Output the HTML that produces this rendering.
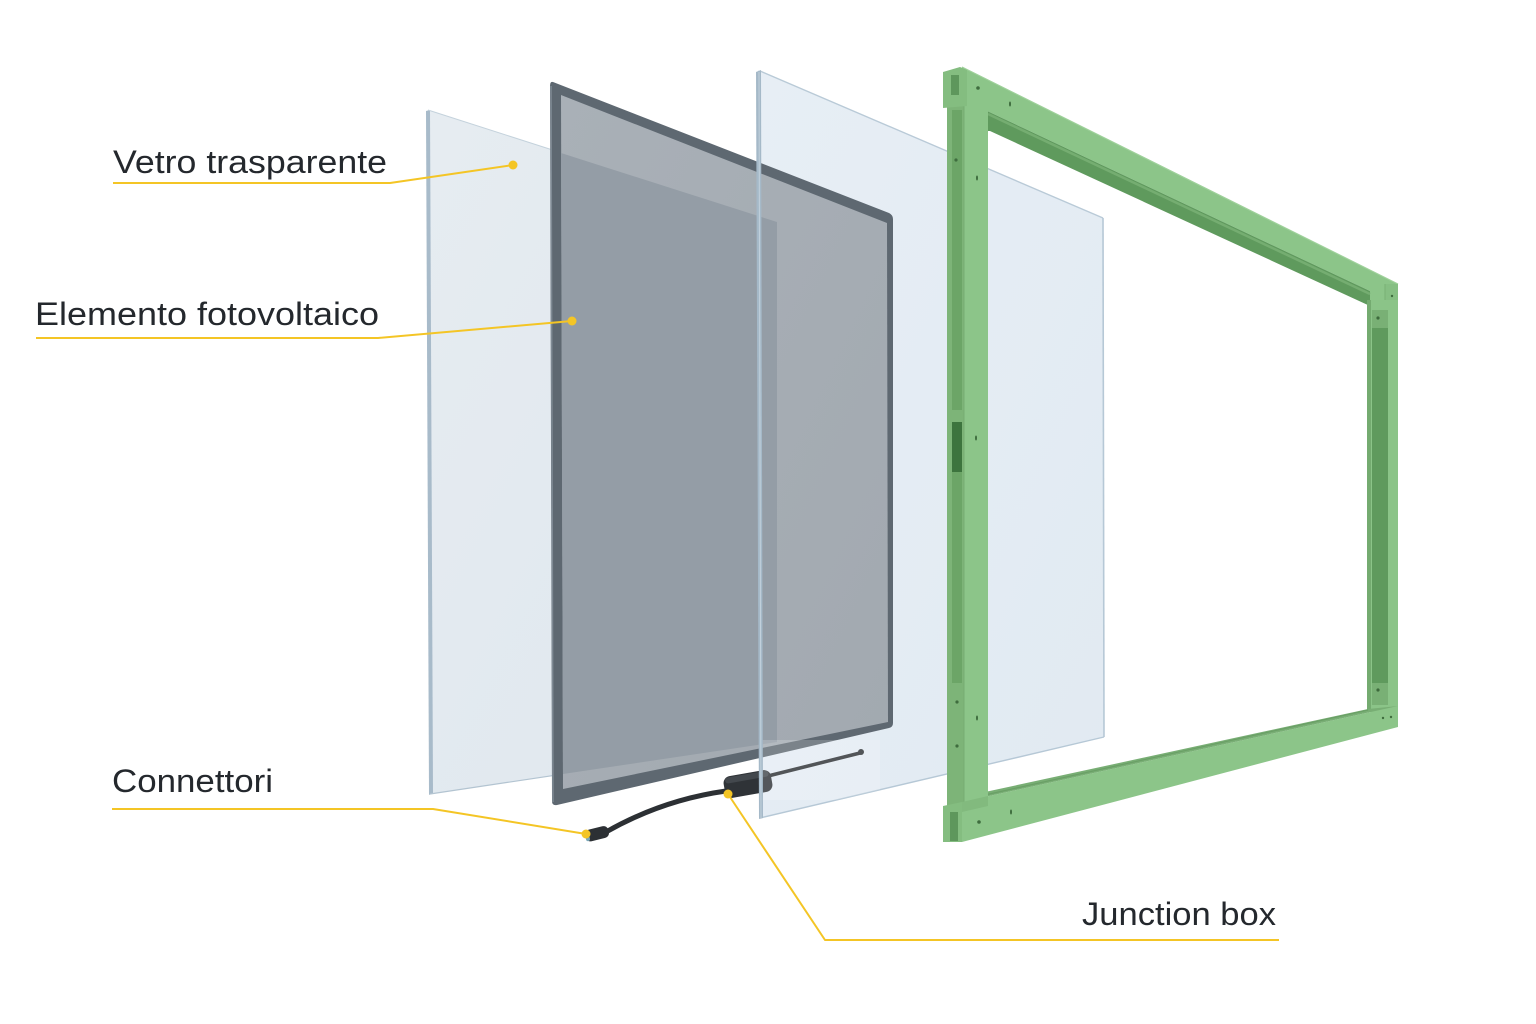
<!DOCTYPE html>
<html>
<head>
<meta charset="utf-8">
<style>
  html,body{margin:0;padding:0;background:#ffffff;}
  body{width:1536px;height:1024px;overflow:hidden;}
  svg{display:block;}
  .lbl{font-family:"Liberation Sans",sans-serif;font-size:32px;fill:#24282d;}
</style>
</head>
<body>
<svg width="1536" height="1024" viewBox="0 0 1536 1024" xmlns="http://www.w3.org/2000/svg">
  <defs>
    <linearGradient id="g1" x1="0" y1="0" x2="1" y2="1">
      <stop offset="0" stop-color="#e6ecf1"/>
      <stop offset="1" stop-color="#dfe7ee"/>
    </linearGradient>
    <linearGradient id="g3" x1="0" y1="0" x2="1" y2="1">
      <stop offset="0" stop-color="#e7eef5"/>
      <stop offset="1" stop-color="#e1eaf2"/>
    </linearGradient>
    <linearGradient id="g2" x1="0" y1="0" x2="1" y2="1">
      <stop offset="0" stop-color="#a9b0b7"/>
      <stop offset="1" stop-color="#a2a9b0"/>
    </linearGradient>
    <clipPath id="p3clip">
      <polygon points="758,70 1103,218 1104,737 760,818"/>
    </clipPath>
  </defs>

  <rect width="1536" height="1024" fill="#ffffff"/>

  <!-- Panel 1: back glass -->
  <polygon points="428,110 777,222 777,742 430,794" fill="url(#g1)"/>
  <polygon points="426,111 430,110 433,793 429,795" fill="#a8bbca"/>
  <line x1="430" y1="794" x2="777" y2="742" stroke="#b3c4d1" stroke-width="1.2"/>
  <line x1="428" y1="110" x2="777" y2="222" stroke="#c4d2dc" stroke-width="1"/>

  <!-- Panel 3: front glass face (behind PV panel) -->
  <polygon points="758,70 1103,218 1104,737 760,818" fill="url(#g3)"/>
  <line x1="760" y1="71" x2="1103" y2="218" stroke="#b9cad7" stroke-width="1.4"/>
  <line x1="1103" y1="218" x2="1104" y2="737" stroke="#b6c8d6" stroke-width="1.6"/>
  <line x1="760" y1="818" x2="1104" y2="737" stroke="#b6c8d6" stroke-width="1.4"/>

  <!-- Panel 2: photovoltaic element -->
  <path d="M553,82 L889,213 Q893,215 893,219 L893,723 Q893,727 889,728 L557,805 Q552,806 552,801 L550,86 Q550,81 553,82 Z" fill="#5e6871"/>
  <polygon points="561,95 887,223 888,722 563,789" fill="url(#g2)"/>
  <!-- panel 1 seen through -->
  <polygon points="561,153 777,222 777,742 563,774" fill="#949da6"/>
  <line x1="551" y1="86" x2="553" y2="802" stroke="#7f8a94" stroke-width="1.5"/>

  <!-- cable & junction box -->
  <path d="M606,832 Q662,800 726,791" fill="none" stroke="#2c3034" stroke-width="5" stroke-linecap="round"/>
  <path d="M768,776 L860,753" fill="none" stroke="#2c3034" stroke-width="3.5" stroke-linecap="round"/>
  <circle cx="861" cy="752" r="3" fill="#2c3034"/>
  <g transform="translate(748,784) rotate(-10)">
    <rect x="-24" y="-11" width="48" height="22" rx="7" fill="#2f3337"/>
    <rect x="-22" y="-10" width="44" height="6" rx="3" fill="#43484d"/>
  </g>
  <g transform="translate(596,834) rotate(-14)">
    <rect x="-11" y="-6" width="24" height="12" rx="5" fill="#2c3034"/>
    <rect x="-11" y="-5" width="4" height="10" rx="2" fill="#7aa7b8"/>
  </g>

  <!-- glass overlay on parts behind panel 3 -->
  <g clip-path="url(#p3clip)">
    <rect x="760" y="740" width="120" height="60" fill="#ffffff" opacity="0.18"/>
  </g>
  <!-- Panel 3 left edge over PV panel -->
  <polygon points="756,72 761,70 763,818 759,819" fill="#a5b9c8"/>
  <line x1="759" y1="72" x2="761" y2="818" stroke="#c2d1dc" stroke-width="1"/>

  <!-- Green frame -->
  <!-- top rail light face -->
  <polygon points="962,67 1398,284 1398,307 1370,300 1370,291 985,110 962,110" fill="#8cc589"/>
  <line x1="962" y1="67" x2="1398" y2="284" stroke="#9fd19b" stroke-width="1.2"/>
  <!-- top rail channel -->
  <polygon points="985,110 1370,291 1370,306 990,131 985,131" fill="#5f9a5d"/>
  <line x1="988" y1="114" x2="1370" y2="294" stroke="#75ad71" stroke-width="2.5"/>
  <!-- right end cap -->
  <rect x="1385" y="284" width="13" height="23" fill="#86bf83"/>
  <line x1="1385" y1="284" x2="1385" y2="306" stroke="#79b175" stroke-width="1"/>

  <!-- right post -->
  <rect x="1367" y="300" width="31" height="412" fill="#8bc488"/>
  <rect x="1367" y="300" width="4" height="410" fill="#74ab70"/>
  <rect x="1372" y="328" width="16" height="355" fill="#5f9a5d"/>
  <rect x="1372" y="310" width="16" height="18" fill="#79b075"/>
  <rect x="1372" y="683" width="16" height="22" fill="#79b075"/>
  <circle cx="1378" cy="318" r="1.6" fill="#3d6a3c"/>
  <circle cx="1378" cy="690" r="1.6" fill="#3d6a3c"/>

  <!-- bottom rail -->
  <polygon points="962,802 1398,706 1398,727 962,842" fill="#8cc589"/>
  <polygon points="985,792 1368,709 1398,706 962,802 985,798" fill="#78ae74"/>
  <line x1="985" y1="795" x2="1368" y2="710" stroke="#6a9f66" stroke-width="1.2"/>

  <!-- left post -->
  <rect x="947" y="106" width="17" height="700" fill="#7db478"/>
  <rect x="964" y="106" width="24" height="696" fill="#8cc589"/>
  <rect x="952" y="110" width="10" height="300" fill="#6ca567"/>
  <rect x="952" y="422" width="10" height="50" fill="#3d743e"/>
  <rect x="952" y="472" width="10" height="211" fill="#6ca567"/>
  <line x1="964" y1="106" x2="964" y2="802" stroke="#76ad72" stroke-width="1"/>

  <!-- top cap -->
  <polygon points="943,72 960,67 967,70 967,106 943,108" fill="#84bd80"/>
  <rect x="951" y="75" width="8" height="20" fill="#5e975c"/>
  <!-- bottom foot -->
  <polygon points="943,806 962,802 962,842 943,842" fill="#84bd80"/>
  <rect x="950" y="812" width="8" height="29" fill="#5e975c"/>
  <polygon points="962,802 988,796 988,806 962,812" fill="#82ba7e"/>

  <!-- screw holes -->
  <g fill="#3f6d3e">
    <circle cx="978" cy="88" r="1.8"/>
    <ellipse cx="1010" cy="104" rx="1" ry="2.5"/>
    <circle cx="956" cy="160" r="1.6"/>
    <ellipse cx="977" cy="178" rx="1" ry="2.5"/>
    <ellipse cx="976" cy="438" rx="1" ry="2.5"/>
    <circle cx="957" cy="702" r="1.6"/>
    <ellipse cx="977" cy="718" rx="1" ry="2.5"/>
    <circle cx="957" cy="746" r="1.6"/>
    <circle cx="979" cy="822" r="1.8"/>
    <ellipse cx="1011" cy="812" rx="1" ry="2.5"/>
    <circle cx="1391" cy="717" r="1.2"/>
    <circle cx="1383" cy="718" r="1.2"/>
    <circle cx="1392" cy="296" r="1.2"/>
  </g>

  <!-- Label leader lines -->
  <g fill="none" stroke="#f4c525" stroke-width="2" stroke-linejoin="round">
    <polyline points="113,183 390,183 513,165"/>
    <polyline points="36,338 378,338 572,321"/>
    <polyline points="112,809 433,809 586,834"/>
    <polyline points="1279,940 825,940 728,794"/>
  </g>
  <g fill="#f4c525">
    <circle cx="513" cy="165" r="4.5"/>
    <circle cx="572" cy="321" r="4.5"/>
    <circle cx="586" cy="834" r="4.5"/>
    <circle cx="728" cy="794" r="4.5"/>
  </g>

  <!-- Labels -->
  <text class="lbl" x="113" y="173" textLength="274" lengthAdjust="spacingAndGlyphs">Vetro trasparente</text>
  <text class="lbl" x="35" y="325" textLength="344" lengthAdjust="spacingAndGlyphs">Elemento fotovoltaico</text>
  <text class="lbl" x="112" y="792" textLength="161" lengthAdjust="spacingAndGlyphs">Connettori</text>
  <text class="lbl" x="1082" y="925" textLength="194" lengthAdjust="spacingAndGlyphs">Junction box</text>
</svg>
</body>
</html>
